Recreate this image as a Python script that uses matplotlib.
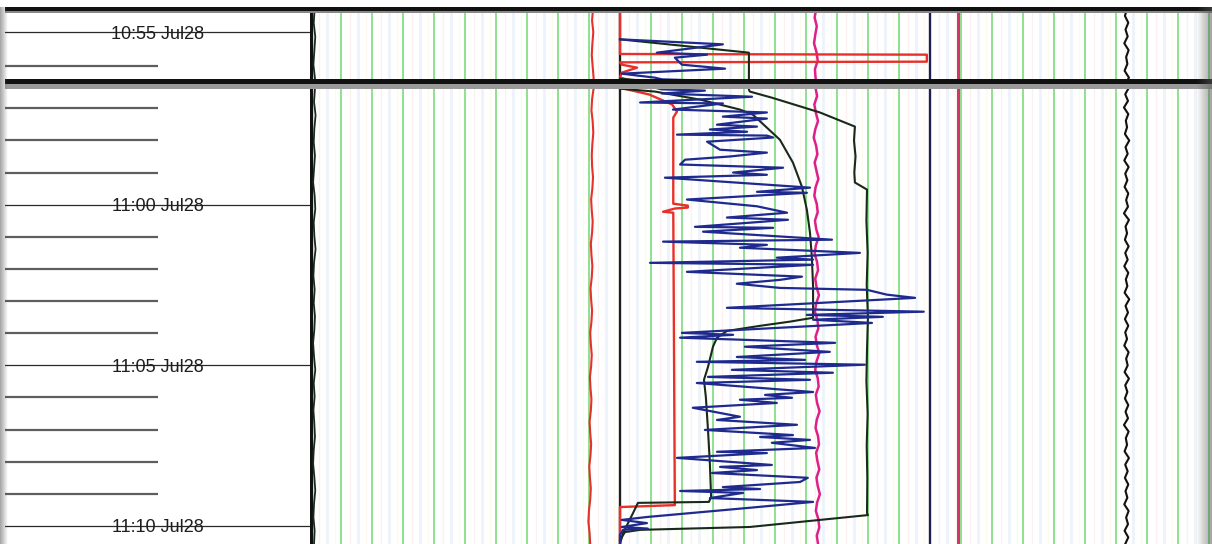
import matplotlib.pyplot as plt
import numpy as np
from matplotlib.patches import Rectangle

W, H = 1212, 544

# time axis: minutes after 11:00 Jul28 ; track values in chart divisions (0..29)
tick_minutes = [-5, 0, 5, 10]
tick_labels = ['10:55 Jul28', '11:00 Jul28', '11:05 Jul28', '11:10 Jul28']
minor_minutes = [-4, -3, -2, -1, 1, 2, 3, 4, 6, 7, 8, 9]

t_start, t_end = -5.70, 10.56

blue_t = [-4.79, -4.64, -4.39, -4.33, -4.24, -4.03, -3.91, -3.76, -3.64,
          -3.59, -3.55, -3.46, -3.36, -3.18, -3.15, -2.96, -2.87, -2.74, -2.68,
          -2.49, -2.43, -2.34, -2.27, -2.18, -2.15, -2.09, -1.96, -1.71, -1.62,
          -1.50, -1.40, -1.25, -1.15, -1.00, -0.93, -0.84, -0.53, -0.40, -0.37,
          -0.16, 0.05, 0.25, 0.40, 0.47, 0.69, 0.72, 0.84, 1.09, 1.15, 1.25,
          1.34, 1.50, 1.65, 1.71, 1.81, 1.87, 2.09, 2.24, 2.34, 2.46, 2.59,
          2.65, 2.80, 2.90, 3.21, 3.33, 3.43, 3.49, 3.58, 3.68, 3.99, 4.05,
          4.14, 4.30, 4.42, 4.58, 4.74, 4.83, 4.89, 4.98, 5.14, 5.23, 5.36,
          5.45, 5.55, 5.83, 5.92, 6.01, 6.07, 6.17, 6.32, 6.60, 6.70, 6.85,
          7.01, 7.17, 7.23, 7.32, 7.41, 7.57, 7.69, 7.73, 7.88, 8.10, 8.16,
          8.26, 8.35, 8.50, 8.63, 8.79, 8.85, 8.91, 8.97, 9.13, 9.25, 9.44,
          9.72, 9.81, 9.91, 10.03, 10.08, 10.12, 10.28, 10.56]
blue_v = [10.0, 13.32, 11.19, 12.81, 11.77, 12.0, 13.39, 10.06, 11.13,
          11.35, 12.74, 11.35, 14.26, 10.65, 13.32, 11.71, 14.74, 13.32, 14.74,
          13.13, 14.42, 12.90, 14.10, 11.84, 14.74, 14.94, 12.81, 13.23, 14.74,
          13.55, 12.10, 11.94, 15.26, 13.65, 14.74, 11.45, 16.13, 14.42, 16.03,
          12.16, 14.42, 15.39, 13.45, 15.42, 12.42, 14.94, 12.68, 16.84, 11.39, 14.74,
          13.87, 17.74, 15.06, 16.23, 10.97, 16.23, 12.16, 15.87, 15.16, 13.77, 15.16,
          17.97, 18.61, 19.52, 13.45, 19.80, 16.03, 18.48, 16.23, 18.13, 12.0, 13.65,
          11.94, 16.94, 14.03, 16.77, 13.77, 15.97, 12.48, 17.90, 13.61, 16.87, 12.84,
          16.13, 12.48, 16.23, 14.68, 15.55, 13.87, 15.06, 12.35, 13.87, 13.13, 15.71,
          12.74, 15.58, 14.52, 16.13, 14.90, 16.29, 13.13, 14.74, 11.84, 14.90, 13.23,
          14.42, 12.97, 16.06, 15.81, 13.32, 14.52, 11.94, 13.97, 12.90, 16.23, 14.10,
          10.87, 10.06, 10.87, 10.06, 10.90, 10.10, 10.0, 10.0]

black_a_t = [-3.61, -3.52, -3.27, -2.96, -2.80, -2.02, -1.31, -0.56, 0.16, 0.87,
             1.62, 2.55, 3.52, 3.64, 3.77, 3.93, 4.14, 4.42, 5.05, 5.45, 5.98,
             7.01, 8.04, 9.10, 9.25, 9.28, 9.60, 10.22, 10.56]
black_a_v = [10.0, 11.13, 12.58, 13.87, 14.29, 15.16, 15.58, 15.87, 16.03, 16.13,
             16.19, 16.23, 16.23, 15.48, 14.52, 13.45, 13.13, 13.0, 12.84, 12.71, 12.77,
             12.84, 12.90, 12.94, 12.87, 10.58, 10.42, 10.10, 10.0]

black_b_t = [-4.79, -4.39, -3.58, -3.52, -3.33, -2.87, -2.43, -2.0, -1.5, -1.0,
             -0.69, -0.47, 0.5, 1.5, 2.5, 3.5, 4.5, 5.5, 6.5, 7.5, 8.5, 9.60,
             9.66, 10.03, 10.12, 10.19, 10.44]
black_b_v = [10.0, 14.16, 14.16, 14.19, 14.90, 16.45, 17.58, 17.55, 17.60, 17.56,
             17.58, 17.97, 17.95, 17.99, 17.96, 18.0, 17.97, 17.95, 17.99, 17.96,
             17.98, 17.97, 18.0, 14.19, 10.65, 10.16, 10.0]

red_t = [-5.70, -4.35, -4.33, -4.12, -4.10, -4.03, -3.94, -3.79, -3.64, -3.43,
         -3.12, -2.90, -2.71, -0.03, 0.03, 0.09, 0.12, 0.22, 0.25, 9.35, 9.41, 10.56]
red_v = [10.0, 10.0, 19.9, 19.9, 10.0, 10.06, 10.55, 10.06, 10.0, 10.94,
         11.68, 11.84, 11.72, 11.72, 12.19, 12.19, 11.77, 11.39, 11.72, 11.77, 10.0, 10.0]

left_wiggle = [0.15, 0.12, 0.17, 0.14, 0.11, 0.16, 0.13, 0.18, 0.14, 0.12,
               0.16, 0.13, 0.10, 0.15, 0.17, 0.12, 0.14, 0.18, 0.13, 0.11,
               0.15, 0.12, 0.16, 0.14, 0.10, 0.13, 0.17, 0.12, 0.15, 0.11,
               0.14, 0.16, 0.12, 0.10, 0.14, 0.17, 0.13, 0.11, 0.15, 0.13]
red_wiggle = [9.13, 9.10, 9.14, 9.11, 9.09, 9.12, 9.15, 9.10, 9.08, 9.12,
              9.14, 9.11, 9.09, 9.10, 9.13, 9.11, 9.07, 9.09, 9.12, 9.10,
              9.06, 9.08, 9.11, 9.09, 9.05, 9.07, 9.10, 9.08, 9.04, 9.06,
              9.09, 9.07, 9.03, 9.05, 9.08, 9.06, 9.02, 9.04, 9.07, 9.05,
              9.01, 9.03, 9.06, 9.04, 9.00, 8.98, 9.02, 9.04]
magenta_wiggle = [16.33, 16.28, 16.35, 16.30, 16.26, 16.34, 16.38, 16.29, 16.31, 16.36,
                  16.27, 16.32, 16.39, 16.30, 16.25, 16.33, 16.37, 16.28, 16.34, 16.40,
                  16.31, 16.27, 16.35, 16.38, 16.29, 16.33, 16.41, 16.32, 16.28, 16.36,
                  16.39, 16.30, 16.34, 16.42, 16.33, 16.29, 16.37, 16.40, 16.31, 16.35,
                  16.43, 16.34, 16.30, 16.38, 16.41, 16.32, 16.36, 16.44, 16.35, 16.31,
                  16.39, 16.42, 16.33, 16.37, 16.43, 16.34, 16.38, 16.45, 16.36, 16.32,
                  16.40, 16.43, 16.35, 16.39]
right_wiggle = [26.36, 26.29, 26.40, 26.31, 26.38, 26.27, 26.41, 26.33, 26.37, 26.28,
                26.42, 26.30, 26.39, 26.26, 26.40, 26.32, 26.36, 26.29, 26.43, 26.31,
                26.38, 26.27, 26.41, 26.30, 26.37, 26.28, 26.40, 26.33, 26.39, 26.26,
                26.42, 26.31, 26.36, 26.29, 26.41, 26.30, 26.38, 26.27, 26.40, 26.32,
                26.37, 26.28, 26.43, 26.31, 26.39, 26.29, 26.40, 26.30, 26.36, 26.27,
                26.41, 26.33, 26.38, 26.28, 26.42, 26.30, 26.37, 26.29, 26.40, 26.31,
                26.39, 26.26, 26.41, 26.32, 26.36, 26.28, 26.42, 26.30, 26.38, 26.29,
                26.40, 26.31, 26.37, 26.27, 26.41, 26.33, 26.39, 26.28, 26.40, 26.30]

green_lines = [d for d in range(1, 30) if d not in (10, 20)]


def box(x0, y0, x1, y1):
    # pixel box (top-left origin) -> figure fraction rect
    return [x0 / W, 1 - y1 / H, (x1 - x0) / W, (y1 - y0) / H]


fig = plt.figure(figsize=(W / 100, H / 100), dpi=100)
fig.patch.set_facecolor('white')

ax_lt = fig.add_axes(box(5, 11, 310, 79))
ax_mt = fig.add_axes(box(310, 11, 1212, 79))
ax_lb = fig.add_axes(box(5, 89, 310, 544))
ax_mb = fig.add_axes(box(310, 89, 1212, 544))

top_lim = (-3.60, -5.64)
bot_lim = (10.56, -3.60)

for ax, lim in [(ax_lt, top_lim), (ax_lb, bot_lim)]:
    ax.set_xlim(0, 1)
    ax.set_ylim(*lim)
    ax.axis('off')
    for m in minor_minutes:
        ax.plot([0, 0.5], [m, m], color='#5e5e5e', lw=1.6, solid_capstyle='butt')
    for m, lab in zip(tick_minutes, tick_labels):
        ax.plot([0, 1], [m, m], color='#2a2a2a', lw=0.9)
        ax.text(0.5, m + 0.06, lab, ha='center', va='center', fontsize=13,
                family=['Liberation Sans', 'DejaVu Sans'], color='#1e1e1e',
                clip_on=True)

for ax, lim in [(ax_mt, top_lim), (ax_mb, bot_lim)]:
    ax.set_xlim(0, 29.1)
    ax.set_ylim(*lim)
    ax.axis('off')
    for d in range(0, 30):
        ax.axvline(d + 0.3, color='#fcf0f0', lw=1.0, zorder=0)
        ax.axvline(d + 0.55, color='#eef3fb', lw=2.0, zorder=0)
        ax.axvline(d + 0.8, color='#fbfaec', lw=1.0, zorder=0)
    for d in green_lines:
        ax.axvline(d, color='#8fe08f', lw=1.4, zorder=1)
    ax.axvline(0.03, color='#111111', lw=2.4, zorder=3)
    ax.axvline(10, color='#1e1e1e', lw=1.7, zorder=3)
    ax.axvline(20, color='#20204e', lw=1.7, zorder=3)
    ax.axvline(20.9, color='#d6336a', lw=2.2, zorder=3)

    ax.plot(left_wiggle, np.linspace(t_start, t_end, len(left_wiggle)),
            color='#1a2a1a', lw=1.3, zorder=4)
    ax.plot(red_wiggle, np.linspace(t_start, t_end, len(red_wiggle)),
            color='#e8302a', lw=1.5, zorder=4)
    ax.plot(magenta_wiggle, np.linspace(t_start, t_end, len(magenta_wiggle)),
            color='#e0208a', lw=1.8, zorder=4)
    ax.plot(right_wiggle, np.linspace(t_start, t_end, len(right_wiggle)),
            color='#111111', lw=1.5, zorder=4)

    ax.plot(red_v, red_t, color='#e8302a', lw=1.7, zorder=5)
    ax.plot(black_b_v, black_b_t, color='#1a2a1a', lw=1.5, zorder=5)
    ax.plot(black_a_v, black_a_t, color='#1a2a1a', lw=1.5, zorder=6)
    ax.plot(blue_v, blue_t, color='#1f2a8e', lw=1.6, zorder=7)

# frame bars: top border and section break
for (x0, y0, x1, y1, c) in [(5, 7, W, 11, '#111111'), (5, 11, W, 13, '#888888'),
                            (5, 79, W, 84, '#111111'), (5, 84, W, 89, '#9a9a9a')]:
    fig.add_artist(Rectangle((x0 / W, 1 - y1 / H), (x1 - x0) / W, (y1 - y0) / H,
                             transform=fig.transFigure, color=c, lw=0, zorder=10))

# edge shading
shade = np.linspace(0.55, 0.0, 24)
left_img = np.zeros((2, 24, 4))
left_img[..., :3] = 0.35
left_img[..., 3] = shade
ax_sl = fig.add_axes(box(0, 7, 8, 544), zorder=11)
ax_sl.imshow(left_img, aspect='auto', extent=[0, 1, 0, 1])
ax_sl.axis('off')
ax_sr = fig.add_axes(box(1196, 7, 1212, 544), zorder=11)
ax_sr.imshow(left_img[:, ::-1], aspect='auto', extent=[0, 1, 0, 1])
ax_sr.axis('off')

fig.savefig('out.png', dpi=100, facecolor='white')
